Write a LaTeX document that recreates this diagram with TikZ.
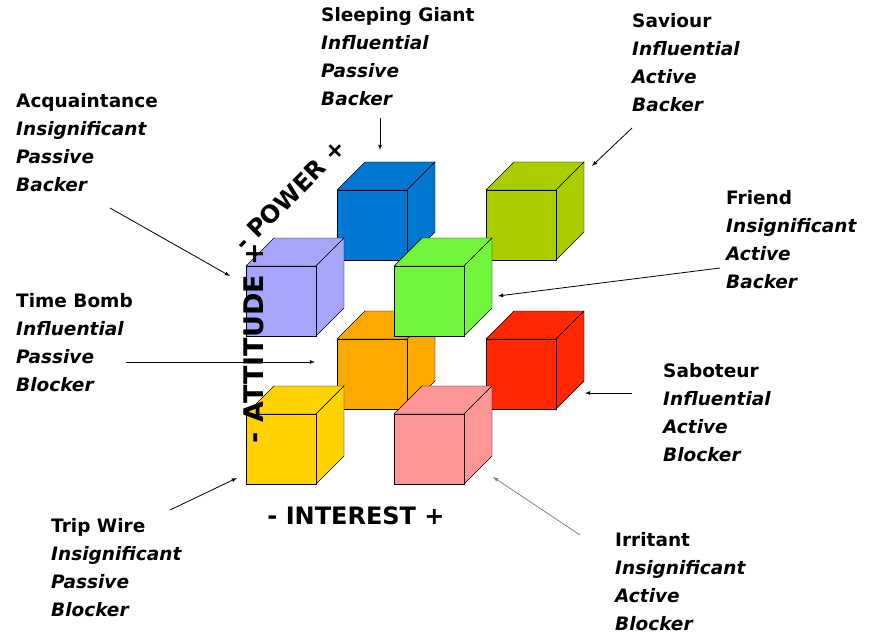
\documentclass[tikz,border=0pt]{standalone}
\usepackage{fontspec}
\setmainfont{DejaVu Sans}
\begin{document}
\begin{tikzpicture}[x=1pt,y=-1pt,
  lbl/.style={anchor=north west,align=left,inner sep=0pt,font=\fontsize{18.5}{28}\selectfont\bfseries},
  ax/.style={font=\fontsize{24}{30}\selectfont\bfseries,inner sep=0pt},
  arr/.style={-latex,thick}]
\useasboundingbox (0,0) rectangle (872,639);
\tikzset{pics/cube/.style={code={
  \draw[fill=#1] (0,0) -- (28,-28) -- (98,-28) -- (70,0) -- cycle;
  \draw[fill=#1] (70,0) -- (98,-28) -- (98,42) -- (70,70) -- cycle;
  \draw[fill=#1] (0,0) rectangle (70,70);
}}}
\definecolor{cblue}{RGB}{0,120,210}
\definecolor{colive}{RGB}{170,205,0}
\definecolor{corange}{RGB}{255,168,0}
\definecolor{cred}{RGB}{255,40,0}
\definecolor{clav}{RGB}{165,165,250}
\definecolor{cgreen}{RGB}{115,245,60}
\definecolor{cyellow}{RGB}{255,210,0}
\definecolor{cpink}{RGB}{255,150,150}
\pic at (337,190) {cube=cblue};
\pic at (486,190) {cube=colive};
\pic at (337,339) {cube=corange};
\pic at (486,339) {cube=cred};
\pic at (246,266) {cube=clav};
\pic at (394,266) {cube=cgreen};
\pic at (246,414) {cube=cyellow};
\pic at (394,414) {cube=cpink};
\node[lbl] (sg) at (321,7) {Sleeping Giant\\\textit{Influential}\\\textit{Passive}\\\textit{Backer}};
\node[lbl] (sv) at (632,13) {Saviour\\\textit{Influential}\\\textit{Active}\\\textit{Backer}};
\node[lbl] (aq) at (16,93) {Acquaintance\\\textit{Insignificant}\\\textit{Passive}\\\textit{Backer}};
\node[lbl] (fr) at (726,190) {Friend\\\textit{Insignificant}\\\textit{Active}\\\textit{Backer}};
\node[lbl] (tb) at (16,293) {Time Bomb\\\textit{Influential}\\\textit{Passive}\\\textit{Blocker}};
\node[lbl] (sb) at (663,363) {Saboteur\\\textit{Influential}\\\textit{Active}\\\textit{Blocker}};
\node[lbl] (tw) at (51,518) {Trip Wire\\\textit{Insignificant}\\\textit{Passive}\\\textit{Blocker}};
\node[lbl] (ir) at (615,532) {Irritant\\\textit{Insignificant}\\\textit{Active}\\\textit{Blocker}};
\coordinate (sgA) at (380,118); \coordinate (sgB) at (380,150);
\coordinate (svA) at (632,128); \coordinate (svB) at (592,166);
\coordinate (aqA) at (110,208); \coordinate (aqB) at (230,276);
\coordinate (frA) at (720,268); \coordinate (frB) at (498,296);
\coordinate (tbA) at (126,362); \coordinate (tbB) at (315,362);
\coordinate (sbA) at (632,393); \coordinate (sbB) at (585,393);
\coordinate (twA) at (170,510); \coordinate (twB) at (237,478);
\coordinate (irA) at (580,535); \coordinate (irB) at (493,477);
\draw[arr] (sgA) -- (sgB);
\draw[arr] (svA) -- (svB);
\draw[arr] (aqA) -- (aqB);
\draw[arr] (frA) -- (frB);
\draw[arr] (tbA) -- (tbB);
\draw[arr] (sbA) -- (sbB);
\draw[arr] (twA) -- (twB);
\draw[-latex,thick,gray] (irA) -- (irB);
\node[ax] (int) at (356,516) {- INTEREST +};
\node[ax,rotate=90,font=\fontsize{27}{30}\selectfont\bfseries] (att) at (254,343) {- ATTITUDE +};
\node[ax,rotate=45] (pow) at (290,195) {- POWER +};
\end{tikzpicture}
\end{document}
